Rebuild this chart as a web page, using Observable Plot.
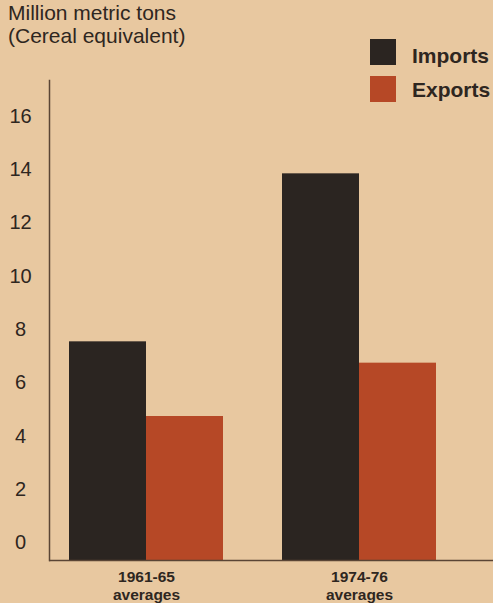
<!DOCTYPE html>
<html>
<head>
<meta charset="utf-8">
<script src="https://cdn.jsdelivr.net/npm/d3@7"></script>
<script src="https://cdn.jsdelivr.net/npm/@observablehq/plot@0.6"></script>
<style>
  html, body { margin: 0; padding: 0; background: #e8c8a0; }
  #wrap { position: relative; width: 493px; height: 603px; overflow: hidden; font-family: "Liberation Sans", Arial, sans-serif; color: #2e2620; }
  #title { position: absolute; left: 8px; top: 2px; font-size: 21px; line-height: 22.5px; white-space: nowrap; }
  .sw { position: absolute; left: 370px; width: 26px; height: 26px; }
  .lt { position: absolute; left: 412px; font-size: 21px; line-height: 21px; font-weight: bold; white-space: nowrap; }
  #chart { position: absolute; left: 0; top: 0; }
</style>
</head>
<body>
<div id="wrap">
  <div id="chart"></div>
  <div id="title"></div>
</div>
<script>
const titleLines = ["Million metric tons", "(Cereal equivalent)"];
const periods = ["1961-65", "1974-76"];
const periodSub = "averages";
const series = ["Imports", "Exports"];
const seriesColors = ["#2b2521", "#b64826"];
const imports = [8.2, 14.5];
const exportsV = [5.4, 7.4];
const yTicks = [0, 2, 4, 6, 8, 10, 12, 14, 16];

const rows = [];
periods.forEach((p, i) => {
  rows.push({period: p, series: "Imports", value: imports[i]});
  rows.push({period: p, series: "Exports", value: exportsV[i]});
});

document.getElementById("title").innerHTML = titleLines.join("<br>");

const wrap = document.getElementById("wrap");
const swTops = [39, 75.5];
const txtTops = [44.5, 79.2];
series.forEach((s, i) => {
  const sw = document.createElement("div");
  sw.className = "sw";
  sw.style.top = swTops[i] + "px";
  sw.style.background = seriesColors[i];
  wrap.appendChild(sw);
  const t = document.createElement("div");
  t.className = "lt";
  t.style.top = txtTops[i] + "px";
  t.textContent = s;
  wrap.appendChild(t);
});

const half = 77;
const chart = Plot.plot({
  width: 493,
  height: 603,
  marginTop: 80,
  marginBottom: 43,
  marginLeft: 49,
  marginRight: 0,
  style: {background: "transparent", fontFamily: "'Liberation Sans', Arial, sans-serif", color: "#2e2620"},
  x: {domain: periods, range: [68, 437], paddingInner: 0.2757, paddingOuter: 0, axis: null},
  y: {domain: [0, 18], axis: null},
  color: {domain: series, range: seriesColors},
  marks: [
    Plot.barY(rows.filter(d => d.series === "Imports"), {x: "period", y: "value", fill: "series", insetRight: half}),
    Plot.barY(rows.filter(d => d.series === "Exports"), {x: "period", y: "value", fill: "series", insetLeft: half}),
    Plot.axisY({ticks: yTicks, tickSize: 0, tickPadding: 0, textAnchor: "middle", dx: -29, dy: -17.5, fontSize: 20, fill: "#2e2620", label: null}),
    Plot.axisX({tickSize: 0, tickPadding: 9, fontSize: 15.5, fontWeight: "bold", lineHeight: 1.15, fill: "#2e2620", label: null, tickFormat: d => d + "\n" + periodSub}),
    Plot.frame({anchor: "left", stroke: "#5a4535", strokeWidth: 1.5}),
    Plot.ruleY([0], {stroke: "#5a4535", strokeWidth: 1.5})
  ]
});
document.getElementById("chart").appendChild(chart);
</script>
</body>
</html>
